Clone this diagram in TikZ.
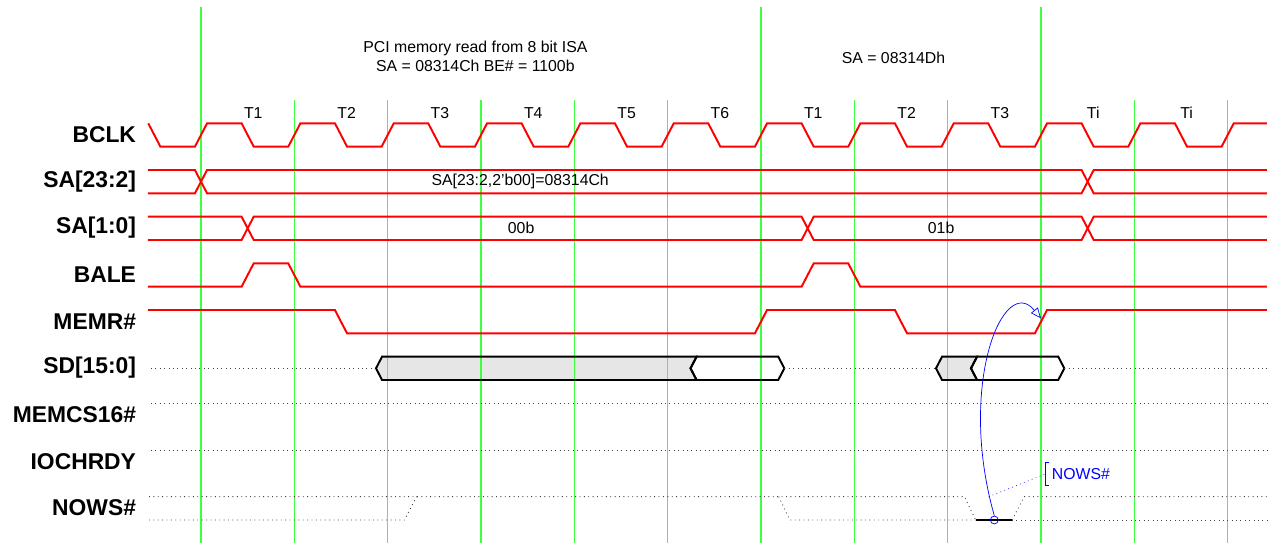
\documentclass[tikz,border=0pt]{standalone}
\usepackage{fontspec}
\setmainfont{Liberation Sans}
\usetikzlibrary{arrows.meta,calc}

\definecolor{gridgreen}{RGB}{64,255,64}
\definecolor{busgray}{RGB}{230,230,230}

\tikzset{
  sig/.style={red, line width=1.1pt, line join=miter},
  clkline/.style={gridgreen, line width=0.8pt},
  undef/.style={black!75, dotted, line width=0.5pt},
  bus/.style={black, line width=1.1pt, line join=miter},
  siglabel/.style={anchor=east, font=\fontsize{13}{15}\selectfont\bfseries},
  small/.style={font=\fontsize{9}{10.5}\selectfont},
}

\begin{document}
\begin{tikzpicture}[x=1.8667cm, y=1.8667cm]
\useasboundingbox (-2.1536,-4.5) rectangle (11.486,1.3214);

% Data on the bus (fill first)
\fill[busgray] (1.875,-2.625) -- (1.94,-2.5) -- (5.31,-2.5) -- (5.245,-2.625) -- (5.31,-2.75) -- (1.94,-2.75) -- cycle;
\fill[busgray] (7.875,-2.625) -- (7.94,-2.5) -- (8.315,-2.5) -- (8.25,-2.625) -- (8.315,-2.75) -- (7.94,-2.75) -- cycle;

% Clock grid
\foreach \k in {1,2,3,4,5,7,8,10,11}
  \draw[clkline] (\k,0.25) -- (\k,-4.5);
\foreach \k in {0,6,9}
  \draw[clkline] (\k,1.25) -- (\k,-4.5);

% Headings
\node[small, align=center] (hdread) at (2.94,0.72) {PCI memory read from 8 bit ISA\\SA = 08314Ch BE\# = 1100b};
\node[small] (hdnext) at (7.42,0.70) {SA = 08314Dh};

% Cycle names
\node[small] (t0) at (0.56,0.11) {T1};
\node[small] (t1) at (1.56,0.11) {T2};
\node[small] (t2) at (2.56,0.11) {T3};
\node[small] (t3) at (3.56,0.11) {T4};
\node[small] (t4) at (4.56,0.11) {T5};
\node[small] (t5) at (5.56,0.11) {T6};
\node[small] (t6) at (6.56,0.11) {T1};
\node[small] (t7) at (7.56,0.11) {T2};
\node[small] (t8) at (8.56,0.11) {T3};
\node[small] (t9) at (9.56,0.11) {Ti};
\node[small] (t10) at (10.56,0.11) {Ti};

% Signal names
\node[siglabel] (lbclk) at (-0.63,-0.12) {BCLK};
\node[siglabel] (lsahi) at (-0.63,-0.62) {SA[23:2]};
\node[siglabel] (lsalo) at (-0.63,-1.12) {SA[1:0]};
\node[siglabel] (lbale) at (-0.63,-1.62) {BALE};
\node[siglabel] (lmemr) at (-0.63,-2.12) {MEMR\#};
\node[siglabel] (lsd) at (-0.63,-2.62) {SD[15:0]};
\node[siglabel] (lmemcs) at (-0.63,-3.12) {MEMCS16\#};
\node[siglabel] (liochrdy) at (-0.63,-3.62) {IOCHRDY};
\node[siglabel] (lnows) at (-0.63,-4.12) {NOWS\#};

% BCLK
\draw[sig] (-0.565,0) -- (-0.435,-0.25)
  \foreach \k in {0,...,10} { -- (\k-0.065,-0.25) -- (\k+0.065,0) -- (\k+0.435,0) -- (\k+0.565,-0.25) }
  -- (10.935,-0.25) -- (11.065,0) -- (11.42,0);

% SA[23:2]
\draw[sig] (-0.568,-0.5) -- (-0.065,-0.5) -- (0.065,-0.75) -- (9.435,-0.75) -- (9.565,-0.5) -- (11.42,-0.5);
\draw[sig] (-0.568,-0.75) -- (-0.065,-0.75) -- (0.065,-0.5) -- (9.435,-0.5) -- (9.565,-0.75) -- (11.42,-0.75);
\node[small] (vsahi) at (3.42,-0.625) {SA[23:2,2'b00]=08314Ch};

% SA[1:0]
\draw[sig] (-0.568,-1) -- (0.435,-1) -- (0.565,-1.25) -- (6.435,-1.25) -- (6.565,-1) -- (9.435,-1) -- (9.565,-1.25) -- (11.42,-1.25);
\draw[sig] (-0.568,-1.25) -- (0.435,-1.25) -- (0.565,-1) -- (6.435,-1) -- (6.565,-1.25) -- (9.435,-1.25) -- (9.565,-1) -- (11.42,-1);
\node[small] (vsalo0) at (3.43,-1.125) {00b};
\node[small] (vsalo1) at (7.93,-1.125) {01b};

% BALE
\draw[sig] (-0.568,-1.75) -- (0.435,-1.75) -- (0.565,-1.5) -- (0.935,-1.5) -- (1.065,-1.75) -- (6.435,-1.75) -- (6.565,-1.5) -- (6.935,-1.5) -- (7.065,-1.75) -- (11.42,-1.75);

% MEMR#
\draw[sig] (-0.568,-2) -- (1.435,-2) -- (1.565,-2.25) -- (5.935,-2.25) -- (6.065,-2) -- (7.435,-2) -- (7.565,-2.25) -- (8.935,-2.25) -- (9.065,-2) -- (11.42,-2);

% SD[15:0]
\draw[undef] (-0.535,-2.625) -- (1.875,-2.625);
\draw[bus] (1.875,-2.625) -- (1.94,-2.5) -- (5.31,-2.5) -- (5.245,-2.625) -- (5.31,-2.75) -- (1.94,-2.75) -- cycle;
\draw[bus] (5.245,-2.625) -- (5.31,-2.5) -- (6.185,-2.5) -- (6.25,-2.625) -- (6.185,-2.75) -- (5.31,-2.75) -- cycle;
\draw[undef] (6.25,-2.625) -- (7.875,-2.625);
\draw[bus] (7.875,-2.625) -- (7.94,-2.5) -- (8.315,-2.5) -- (8.25,-2.625) -- (8.315,-2.75) -- (7.94,-2.75) -- cycle;
\draw[bus] (8.25,-2.625) -- (8.315,-2.5) -- (9.185,-2.5) -- (9.25,-2.625) -- (9.185,-2.75) -- (8.315,-2.75) -- cycle;
\draw[undef] (9.25,-2.625) -- (11.44,-2.625);

% MEMCS16# and IOCHRDY
\draw[undef] (-0.535,-3) -- (11.44,-3);
\draw[undef] (-0.535,-3.5) -- (11.44,-3.5);

% NOWS#
\draw[undef] (-0.557,-4) -- (8.18,-4) -- (8.30,-4.25);
\draw[undef] (8.69,-4.25) -- (8.82,-4) -- (11.44,-4);
\draw[undef] (-0.557,-4.25) -- (2.18,-4.25) -- (2.31,-4);
\draw[undef] (6.19,-4) -- (6.31,-4.25) -- (8.30,-4.25);
\draw[undef] (8.69,-4.25) -- (11.44,-4.25);
\draw[bus] (8.30,-4.25) -- (8.69,-4.25);

% NOWS# ends the cycle
\node[circle, draw=blue, thin, inner sep=0pt, minimum size=4.5pt] (nowsmark) at (8.5,-4.25) {};
\coordinate (memrrise) at (9.0,-2.09);
\coordinate (nowstap) at (8.44,-4.0);
\draw[blue, thin, -{Triangle[open,length=6pt,width=5pt]}] (nowsmark.north) .. controls (8.1,-2.8) and (8.6,-1.6) .. (memrrise);
\node[small, text=blue, anchor=west] (nowsnote) at (9.05,-3.756) {NOWS\#};
\draw[blue, thin] ([xshift=2pt]nowsnote.north west) -- (nowsnote.north west) -- (nowsnote.south west) -- ([xshift=2pt]nowsnote.south west);
\draw[blue, dotted, thin] (nowstap) -- (nowsnote.west);
\end{tikzpicture}
\end{document}
